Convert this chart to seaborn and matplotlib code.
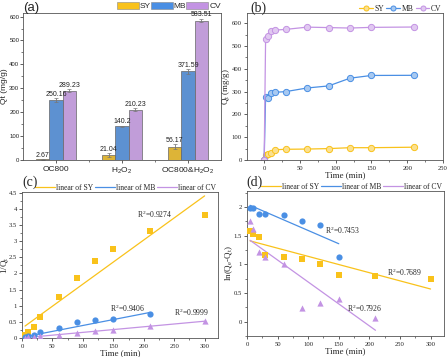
import matplotlib

matplotlib.use("Agg")

import matplotlib.pyplot as plt
import numpy as np
import pandas as pd
import seaborn as sns
from matplotlib.patches import Patch
from matplotlib.ticker import FuncFormatter, MultipleLocator

# ---- data -------------------------------------------------------------
dyes = ["SY", "MB", "CV"]
colors = ["#f9c21b", "#4a8fe4", "#c393e3"]
light = ["#fbe08f", "#a8c9f1", "#e1c9f1"]

# (a) adsorption capacity per material
materials = ["OC800", "H$_\\mathregular{2}$O$_\\mathregular{2}$",
             "OC800&H$_\\mathregular{2}$O$_\\mathregular{2}$"]
qt_sy = [2.67, 21.04, 56.17]
qt_mb = [250.16, 140.2, 371.59]
qt_cv = [289.23, 210.23, 583.51]
err_sy = [1.5, 7, 9]
err_mb = [8, 4, 10]
err_cv = [6, 6, 8]
bar_labels_sy = ["2.67", "21.04", "56.17"]
bar_labels_mb = ["250.16", "140.2", "371.59"]
bar_labels_cv = ["289.23", "210.23", "583.51"]

# (b) Qt vs time
t_b = [0, 2, 5, 10, 15, 30, 60, 90, 120, 150, 210]
b_sy = [0, 21, 27, 31, 45, 47, 48, 50, 54, 54, 56.17]
b_mb = [0, 277, 272, 296, 297, 300, 316, 325, 359, 371, 371.59]
b_cv = [0, 530, 546, 567, 570, 573, 583, 581, 579, 582, 583.51]

# (c) pseudo-second-order t/Qt
t_c_sy = [5, 10, 20, 30, 60, 90, 120, 150, 210, 300]
c_sy = [0.08, 0.18, 0.34, 0.66, 1.27, 1.86, 2.38, 2.77, 3.32, 3.82]
t_c_mb = [5, 10, 20, 30, 60, 90, 120, 150, 210]
c_mb = [0.04, 0.06, 0.1, 0.2, 0.3, 0.48, 0.55, 0.59, 0.73]
t_c_cv = [5, 10, 20, 30, 60, 90, 120, 150, 210, 300]
c_cv = [0.01, 0.02, 0.03, 0.05, 0.1, 0.16, 0.22, 0.26, 0.36, 0.52]
fit_c_x = {"SY": [5, 300], "MB": [5, 210], "CV": [5, 300]}
fit_c_y = {"SY": [0.37, 4.40], "MB": [0.04, 0.79], "CV": [0.01, 0.52]}
r2_c = {"SY": "0.9274", "MB": "0.9406", "CV": "0.9999"}
r2_c_pos = {"SY": (189, 3.82), "MB": (145, 0.91), "CV": (250, 0.79)}

# (d) pseudo-first-order ln(Qe-Qt)
t_d_sy = [5, 10, 20, 30, 60, 90, 120, 150, 210, 300]
d_sy = [1.58, 1.53, 1.48, 1.17, 1.13, 1.10, 1.01, 0.82, 0.80, 0.75]
t_d_mb = [5, 10, 20, 30, 60, 90, 120, 150]
d_mb = [1.98, 1.99, 1.87, 1.87, 1.86, 1.75, 1.69, 1.12]
t_d_cv = [5, 10, 20, 30, 60, 90, 120, 150, 210]
d_cv = [1.75, 1.61, 1.21, 1.12, 1.00, 0.23, 0.33, 0.40, 0.06]
fit_d_x = {"SY": [5, 300], "MB": [5, 150], "CV": [5, 210]}
fit_d_y = {"SY": [1.41, 0.57], "MB": [2.03, 1.36], "CV": [1.42, -0.15]}
r2_d = {"SY": "0.7689", "MB": "0.7453", "CV": "0.7926"}
r2_d_pos = {"SY": (229, 0.86), "MB": (127, 1.59), "CV": (163, 0.23)}

# ---- style ------------------------------------------------------------
sns.set_theme(style="ticks")
plt.rcParams["font.family"] = ["Liberation Serif", "DejaVu Serif"]
plt.rcParams.update({
    "axes.linewidth": 0.6,
    "axes.edgecolor": "#555555",
    "xtick.major.width": 0.6, "ytick.major.width": 0.6,
    "xtick.minor.width": 0.5, "ytick.minor.width": 0.5,
    "xtick.major.size": 2.5, "ytick.major.size": 2.5,
    "xtick.minor.size": 1.5, "ytick.minor.size": 1.5,
    "xtick.major.pad": 1.5, "ytick.major.pad": 1.2,
})

W, H = 448, 357
fig = plt.figure(figsize=(W / 100, H / 100), dpi=100)


def px_axes(left, top, right, bottom):
    return fig.add_axes([left / W, 1 - bottom / H, (right - left) / W, (bottom - top) / H])


ax_a = px_axes(23, 13, 221, 160)
ax_b = px_axes(247, 13, 443, 160)
ax_c = px_axes(22, 192, 218, 338)
ax_d = px_axes(247, 191, 444, 336)

SANS = ["Liberation Sans", "DejaVu Sans"]
plain = FuncFormatter(lambda v, p: f"{v:g}")

# ---- (a) bars ---------------------------------------------------------
bar_df = pd.DataFrame({
    "material": materials * 3,
    "dye": ["SY"] * 3 + ["MB"] * 3 + ["CV"] * 3,
    "qt": qt_sy + qt_mb + qt_cv,
})
sns.barplot(data=bar_df, x="material", y="qt", hue="dye", hue_order=dyes,
            palette=colors, width=0.6, errorbar=None, edgecolor="#666666",
            linewidth=0.5, legend=False, ax=ax_a)
errs = [err_sy, err_mb, err_cv]
labels = [bar_labels_sy, bar_labels_mb, bar_labels_cv]
for cont, err, lab in zip(ax_a.containers, errs, labels):
    xs = [p.get_x() + p.get_width() / 2 for p in cont.patches]
    ys = [p.get_height() for p in cont.patches]
    ax_a.errorbar(xs, ys, yerr=err, fmt="none", ecolor="#777777",
                  elinewidth=0.6, capsize=1.2, capthick=0.5)
    for x, y, e, s in zip(xs, ys, err, lab):
        ax_a.text(x, y + e + 1, s, ha="center", va="bottom", fontsize=5,
                  family=SANS, color="#222222", clip_on=False)
ax_a.set_ylim(0, 615)
ax_a.set_xlim(-0.5, 2.5)
ax_a.yaxis.set_major_locator(MultipleLocator(100))
ax_a.yaxis.set_minor_locator(MultipleLocator(50))
ax_a.set_xticks([0.5, 1.5], minor=True)
ax_a.tick_params(axis="y", pad=0.6, length=2)
ax_a.set_xlabel("")
ax_a.set_ylabel("Qt (mg/g)", fontsize=6, family=SANS)
ax_a.yaxis.set_label_coords(-0.075, 0.5)
for lbl in ax_a.get_xticklabels():
    lbl.set_family(SANS)
    lbl.set_fontsize(6)
for lbl in ax_a.get_yticklabels():
    lbl.set_family(SANS)
    lbl.set_fontsize(4.3)
handles = [Patch(facecolor=c, edgecolor="#888888", linewidth=0.4) for c in colors]
ax_a.legend(handles, dyes, ncol=3, loc="lower right", bbox_to_anchor=(1.0, 1.02),
            frameon=False, prop={"family": SANS, "size": 6},
            handlelength=2.6, handleheight=0.9, handletextpad=0.15,
            columnspacing=0.0, borderpad=0.0, borderaxespad=0.0)
fig.text(23 / W, 1 - 2 / H, "(a)", family=SANS, fontsize=9.5, va="top", ha="left")

# ---- (b) Qt vs time ---------------------------------------------------
for name, vals, c, lc in zip(dyes, [b_sy, b_mb, b_cv], colors, light):
    sns.lineplot(x=t_b, y=vals, color=c, marker="o", markersize=4.5,
                 markerfacecolor=lc, markeredgecolor=c, markeredgewidth=0.7,
                 linewidth=0.9, ax=ax_b, label=name)
ax_b.set_xlim(-24, 250)
ax_b.set_ylim(0, 645)
ax_b.xaxis.set_major_locator(MultipleLocator(50))
ax_b.xaxis.set_minor_locator(MultipleLocator(25))
ax_b.yaxis.set_major_locator(MultipleLocator(100))
ax_b.yaxis.set_minor_locator(MultipleLocator(50))
ax_b.tick_params(labelsize=4.8)
ax_b.set_xlabel("Time (min)", fontsize=6.5, labelpad=0.5)
ax_b.set_ylabel("Q$_\\mathregular{t}$ (mg/g)", fontsize=6.5)
ax_b.yaxis.set_label_coords(-0.075, 0.5)
ax_b.legend(ncol=3, loc="lower right", bbox_to_anchor=(1.0, 0.99), frameon=False,
            fontsize=5.5, handlelength=1.8, handletextpad=0.2, columnspacing=0.3,
            borderpad=0.1, borderaxespad=0.1, markerscale=0.8)
fig.text(250 / W, 1 - 2 / H, "(b)", fontsize=10, va="top", ha="left")

# ---- (c) / (d) --------------------------------------------------------
markers = ["s", "o", "^"]


def kinetic_panel(ax, pts, fit_x, fit_y, r2, r2_pos):
    for name, (tx, ty), c, m in zip(dyes, pts, colors, markers):
        sns.scatterplot(x=tx, y=ty, color=c, marker=m, s=20, linewidth=0,
                        ax=ax, legend=False, zorder=3)
        sns.lineplot(x=fit_x[name], y=fit_y[name], color=c, linewidth=0.9,
                     ax=ax, label="linear of " + name)
        ax.text(*r2_pos[name], "R$^\\mathregular{2}$=" + r2[name], fontsize=5.5,
                ha="left", va="center")
    ax.set_xlim(0, 322)
    ax.xaxis.set_major_locator(MultipleLocator(50))
    ax.xaxis.set_minor_locator(MultipleLocator(25))
    ax.yaxis.set_major_locator(MultipleLocator(0.5))
    ax.yaxis.set_major_formatter(plain)
    ax.yaxis.set_minor_locator(MultipleLocator(0.25))
    ax.tick_params(labelsize=4.8)
    ax.set_xlabel("Time (min)", fontsize=6.5, labelpad=0.5)
    ax.legend(ncol=3, loc="lower right", bbox_to_anchor=(1.0, 0.99), frameon=False,
              fontsize=5.5, handlelength=2.6, handletextpad=0.2, columnspacing=0.2,
              borderpad=0.1, borderaxespad=0.1)


kinetic_panel(ax_c, [(t_c_sy, c_sy), (t_c_mb, c_mb), (t_c_cv, c_cv)],
              fit_c_x, fit_c_y, r2_c, r2_c_pos)
ax_c.set_ylim(0, 4.52)
ax_c.set_ylabel("1/Q$_\\mathregular{t}$", fontsize=6.5)
ax_c.yaxis.set_label_coords(-0.062, 0.5)
fig.text(22 / W, 1 - 176 / H, "(c)", fontsize=10, va="top", ha="left")

kinetic_panel(ax_d, [(t_d_sy, d_sy), (t_d_mb, d_mb), (t_d_cv, d_cv)],
              fit_d_x, fit_d_y, r2_d, r2_d_pos)
ax_d.set_ylim(-0.25, 2.28)
ax_d.set_ylabel("ln(Q$_\\mathregular{e}$-Q$_\\mathregular{t}$)", fontsize=6.5)
ax_d.yaxis.set_label_coords(-0.062, 0.5)
fig.text(246 / W, 1 - 176 / H, "(d)", fontsize=10, va="top", ha="left")

for ax in (ax_a, ax_b, ax_c, ax_d):
    ax.tick_params(which="both", direction="out", colors="#444444", labelcolor="#222222")
    for sp in ax.spines.values():
        sp.set_visible(True)

fig.savefig("out.png", dpi=100)
